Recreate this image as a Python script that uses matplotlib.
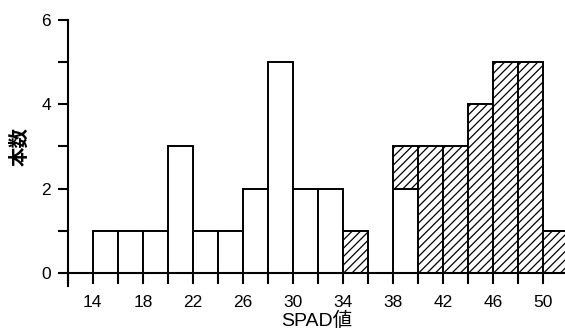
import matplotlib
matplotlib.use("Agg")
import matplotlib.pyplot as plt
import numpy as np

plt.rcParams['font.family'] = ['Liberation Sans', 'Noto Sans CJK JP', 'DejaVu Sans']
plt.rcParams['hatch.linewidth'] = 0.9

bin_left = [14, 16, 18, 20, 22, 24, 26, 28, 30, 32, 34, 36, 38, 40, 42, 44, 46, 48, 50]
white_counts = [1, 1, 1, 3, 1, 1, 2, 5, 2, 2, 0, 0, 2, 0, 0, 0, 0, 0, 0]
hatched_counts = [0, 0, 0, 0, 0, 0, 0, 0, 0, 0, 1, 0, 1, 3, 3, 4, 5, 5, 1]
xtick_labels = ['14', '18', '22', '26', '30', '34', '38', '42', '46', '50']
ytick_labels = ['0', '2', '4', '6']
bin_width = 2

fig = plt.figure(figsize=(5.65, 3.34), dpi=100)
ax = fig.add_axes([0.120, 0.183, 0.88, 0.757])

lw = 1.4
x = np.array(bin_left)
w = np.array(white_counts)
h = np.array(hatched_counts)
mw = w > 0
ax.bar(x[mw], w[mw], width=bin_width, align='edge', facecolor='white',
       edgecolor='black', linewidth=lw, zorder=2)
mh = h > 0
ax.bar(x[mh], h[mh], width=bin_width, bottom=w[mh], align='edge', facecolor='white',
       edgecolor='black', linewidth=lw, hatch='////', zorder=2)

ax.set_xlim(12, 51.76)
ax.set_ylim(0, 6)
ax.spines['top'].set_visible(False)
ax.spines['right'].set_visible(False)
ax.spines['left'].set_linewidth(1.5)
ax.spines['bottom'].set_linewidth(1.5)
ax.spines['left'].set_bounds(-0.3, 6)
ax.spines['bottom'].set_bounds(12, 51.76)

ax.set_xticks(np.arange(12, 52, 2), minor=True)
ax.set_xticks([int(s) for s in xtick_labels])
ax.set_xticklabels(xtick_labels)
ax.set_yticks(np.arange(0, 7, 1), minor=True)
ax.set_yticks([int(s) for s in ytick_labels])
ax.set_yticklabels(ytick_labels)

ax.tick_params(axis='x', which='both', direction='out', length=8, width=1.5, pad=8, labelsize=12.5)
ax.tick_params(axis='y', which='both', direction='out', length=7, width=1.5, pad=5, labelsize=12.5)

ax.set_xlabel('SPAD値', fontsize=14, labelpad=1)
ax.set_ylabel('本数', fontsize=14, labelpad=9, fontweight='bold')

fig.savefig('out.png', dpi=100)
